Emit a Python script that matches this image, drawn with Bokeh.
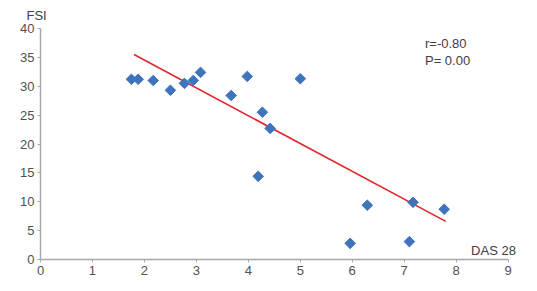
import math
from bokeh.plotting import figure
from bokeh.models import Label, Range1d, FixedTicker
from bokeh.embed import file_html
from bokeh.resources import INLINE

das28 = [1.75, 1.88, 2.17, 2.50, 2.77, 2.94, 3.08, 3.67, 3.98, 4.19, 4.27, 4.42, 5.00, 5.96, 6.29, 7.10, 7.17, 7.77]
fsi = [31.2, 31.2, 31.0, 29.3, 30.5, 31.0, 32.4, 28.4, 31.7, 14.4, 25.5, 22.7, 31.3, 2.8, 9.4, 3.1, 9.9, 8.7]
fit_x = [1.8, 7.8]
fit_y = [35.5, 6.6]
x_ticks = [0, 1, 2, 3, 4, 5, 6, 7, 8, 9]
y_ticks = [0, 5, 10, 15, 20, 25, 30, 35, 40]

FONT = "Liberation Sans"
FS = "13px"
p = figure(width=537, height=291, output_backend="svg", toolbar_location=None,
           x_range=Range1d(0, 9.2), y_range=Range1d(0, 40),
           min_border_left=40, min_border_right=19, min_border_top=28, min_border_bottom=32)
p.outline_line_color = None
p.xgrid.visible = False
p.ygrid.visible = False
p.title.text = "FSI"
p.title.align = "left"
p.title.offset = -14
p.title.text_font = FONT
p.title.text_font_size = FS
p.title.text_font_style = "normal"
p.title.text_color = "#404040"
p.title.standoff = 11
for ax, ticks in ((p.xaxis, x_ticks), (p.yaxis, y_ticks)):
    ax.ticker = FixedTicker(ticks=ticks)
    ax.axis_line_color = "#a8a8a8"
    ax.axis_line_width = 1.5
    ax.major_tick_line_color = "#a8a8a8"
    ax.major_tick_in = 0
    ax.major_tick_out = 3
    ax.minor_tick_line_color = None
    ax.major_label_text_font = FONT
    ax.major_label_text_font_size = FS
    ax.major_label_text_color = "#505050"
    ax.major_label_standoff = 3
p.xaxis.bounds = (0, 9)

p.line(fit_x, fit_y, line_color="#e3262b", line_width=1.6)
p.scatter(das28, fsi, marker="square", size=7.5, angle=math.pi / 4,
          fill_color="#3f74bd", line_color="#3f74bd")

for txt, x, y, align in (("r=-0.80", 7.4, 37.4, "left"),
                         ("P= 0.00", 7.4, 34.4, "left"),
                         ("DAS 28", 9.15, 1.6, "right")):
    p.add_layout(Label(x=x, y=y, text=txt, text_font=FONT, text_font_size=FS,
                       text_color="#404040", text_align=align, text_baseline="middle"))

open("out.html", "w").write(file_html(p, INLINE))
